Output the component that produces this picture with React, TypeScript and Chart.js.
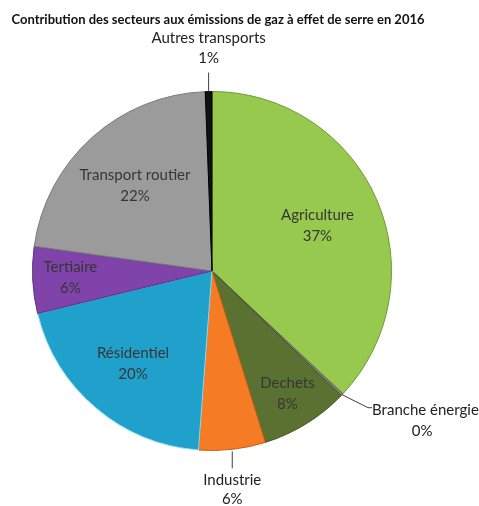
import React, { useEffect, useRef } from "react";
import { Chart, registerables } from "chart.js";

Chart.register(...registerables);

const title = "Contribution des secteurs aux émissions de gaz à effet de serre en 2016";
const categories = [
  "Agriculture",
  "Branche énergie",
  "Dechets",
  "Industrie",
  "Résidentiel",
  "Tertiaire",
  "Transport routier",
  "Autres transports",
];
const values = [37, 0.2, 8, 6, 20, 6, 22.2, 0.6];
const percentLabels = ["37%", "0%", "8%", "6%", "20%", "6%", "22%", "1%"];
const colors = ["#97c94f", "#8a8a8a", "#5b7131", "#f57c24", "#20a1cb", "#7f43a9", "#9b9b9b", "#111111"];
const borders = ["#6e9a35", "#555555", "#43561f", "#c85f12", "#8fdcf2", "#5e2c84", "#7a7a7a", "#000000"];

const FONT = "Lato, 'Open Sans', sans-serif";

// label placement style per slice (index-based)
const inside: Record<number, number> = { 0: 0.64, 2: 0.8, 4: 0.68, 5: 0.79, 6: 0.64 };

const labelPlugin = {
  id: "pieLabels",
  afterDraw(chart: any) {
    const ctx = chart.ctx as CanvasRenderingContext2D;
    const meta = chart.getDatasetMeta(0);
    ctx.save();
    // title
    ctx.fillStyle = "#111";
    ctx.font = `bold 13px ${FONT}`;
    ctx.textAlign = "center";
    ctx.textBaseline = "middle";
    ctx.fillText(title, 218, 20);

    meta.data.forEach((arc: any, i: number) => {
      const { x, y, startAngle, endAngle, outerRadius } = arc.getProps(
        ["x", "y", "startAngle", "endAngle", "outerRadius"],
        true
      );
      const mid = (startAngle + endAngle) / 2;
      const name = categories[i];
      const pct = percentLabels[i];
      if (inside[i] !== undefined) {
        const r = outerRadius * inside[i];
        const cx = x + Math.cos(mid) * r;
        const cy = y + Math.sin(mid) * r;
        ctx.fillStyle = "#363636";
        ctx.font = `15px ${FONT}`;
        ctx.textAlign = "center";
        ctx.fillText(name, cx, cy - 10.5);
        ctx.fillText(pct, cx, cy + 10.5);
        return;
      }
      const ex = x + Math.cos(mid) * outerRadius;
      const ey = y + Math.sin(mid) * outerRadius;
      ctx.strokeStyle = "#404040";
      ctx.lineWidth = 1;
      ctx.fillStyle = "#222";
      ctx.font = `15px ${FONT}`;
      ctx.textAlign = "center";
      if (i === 7) {
        ctx.beginPath();
        ctx.moveTo(ex, ey);
        ctx.lineTo(ex, ey - 19);
        ctx.stroke();
        ctx.fillText(name, ex, ey - 53);
        ctx.fillText(pct, ex, ey - 33);
      } else if (i === 3) {
        ctx.beginPath();
        ctx.moveTo(ex, ey + 2);
        ctx.lineTo(ex, ey + 19);
        ctx.stroke();
        ctx.fillText(name, ex, ey + 31);
        ctx.fillText(pct, ex, ey + 50);
      } else if (i === 1) {
        ctx.beginPath();
        ctx.moveTo(ex, ey);
        ctx.lineTo(ex + 26, ey + 13);
        ctx.lineTo(ex + 30, ey + 13);
        ctx.stroke();
        ctx.textAlign = "left";
        ctx.fillText(name, ex + 30, ey + 15);
        ctx.textAlign = "center";
        ctx.fillText(pct, ex + 80, ey + 36);
      }
    });
    ctx.restore();
  },
};

export default function App() {
  const ref = useRef<HTMLCanvasElement>(null);
  useEffect(() => {
    document.body.style.margin = "0";
    const chart = new Chart(ref.current!, {
      type: "pie",
      data: {
        labels: categories,
        datasets: [
          {
            data: values,
            backgroundColor: colors,
            borderColor: borders,
            borderWidth: 1,
          },
        ],
      },
      options: {
        animation: false,
        responsive: false,
        layout: { padding: { left: 32, right: 87, top: 91, bottom: 55 } },
        plugins: {
          legend: { display: false },
          title: { display: false },
          tooltip: { enabled: false },
        },
      },
      plugins: [labelPlugin],
    });
    return () => chart.destroy();
  }, []);
  return <canvas ref={ref} width={479} height={506} style={{ display: "block" }} />;
}
